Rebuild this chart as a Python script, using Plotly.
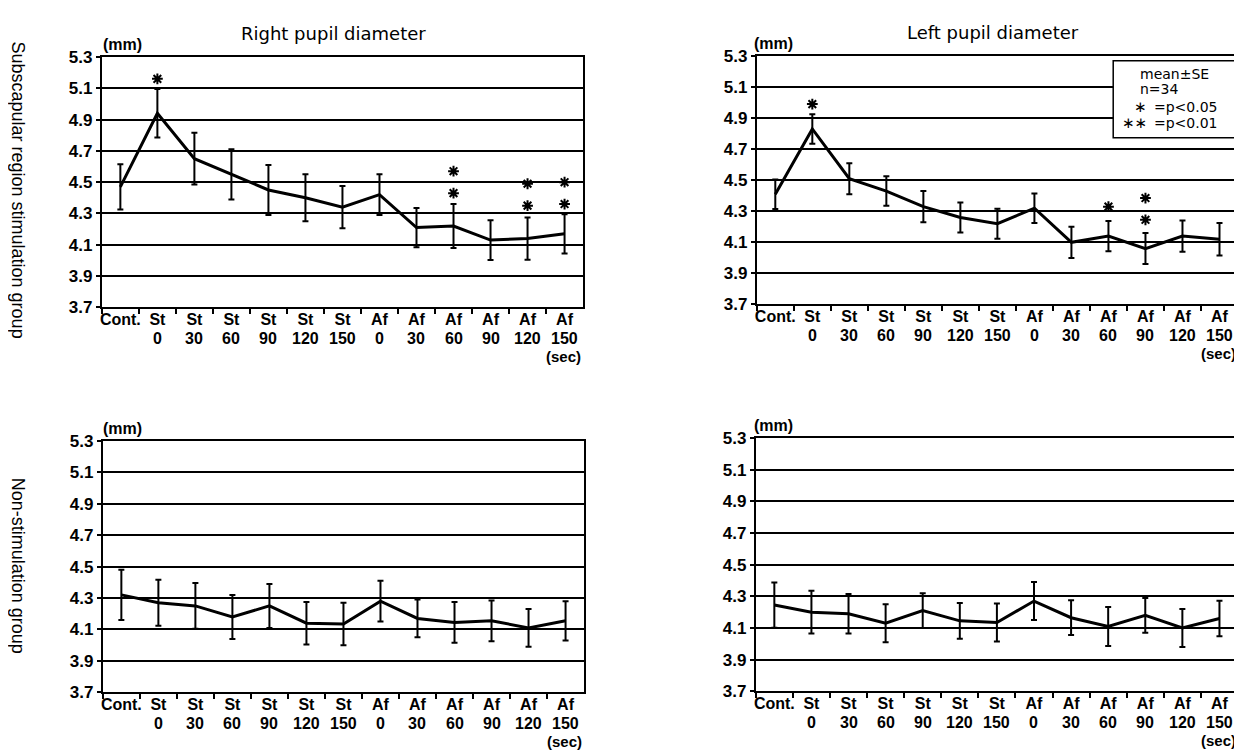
import plotly.graph_objects as go

# ---------------- data ----------------
cat_main = ["Cont.", "St", "St", "St", "St", "St", "St", "Af", "Af", "Af", "Af", "Af", "Af"]
cat_sub = ["", "0", "30", "60", "90", "120", "150", "0", "30", "60", "90", "120", "150"]
categories = [f"{m} {s}".strip() for m, s in zip(cat_main, cat_sub)]

y_ticks = [3.7, 3.9, 4.1, 4.3, 4.5, 4.7, 4.9, 5.1, 5.3]

# Subscapular region stimulation group
right_stim_mean = [4.47, 4.94, 4.65, 4.55, 4.45, 4.40, 4.34, 4.42, 4.21, 4.22, 4.13, 4.14, 4.17]
right_stim_se = [0.145, 0.155, 0.165, 0.16, 0.16, 0.15, 0.135, 0.13, 0.125, 0.14, 0.127, 0.135, 0.125]
left_stim_mean = [4.41, 4.83, 4.51, 4.43, 4.33, 4.26, 4.22, 4.32, 4.10, 4.14, 4.06, 4.14, 4.12]
left_stim_se = [0.095, 0.095, 0.10, 0.095, 0.10, 0.097, 0.097, 0.095, 0.10, 0.097, 0.10, 0.10, 0.105]

# Non-stimulation group
right_non_mean = [4.32, 4.27, 4.25, 4.18, 4.25, 4.14, 4.135, 4.28, 4.17, 4.145, 4.155, 4.11, 4.155]
right_non_se = [0.16, 0.147, 0.145, 0.14, 0.14, 0.135, 0.135, 0.13, 0.12, 0.13, 0.13, 0.12, 0.125]
left_non_mean = [4.245, 4.20, 4.19, 4.13, 4.21, 4.145, 4.135, 4.27, 4.165, 4.11, 4.18, 4.10, 4.16]
left_non_se = [0.143, 0.135, 0.125, 0.12, 0.11, 0.113, 0.12, 0.12, 0.11, 0.123, 0.11, 0.12, 0.112]

# significance asterisks (category, y position in mm)
right_sig_cat = ["St 0", "Af 60", "Af 60", "Af 120", "Af 120", "Af 150", "Af 150"]
right_sig_y = [5.16, 4.57, 4.43, 4.49, 4.35, 4.50, 4.36]
left_sig_cat = ["St 0", "Af 60", "Af 90", "Af 90"]
left_sig_y = [4.99, 4.33, 4.385, 4.245]

titles = ["Right pupil diameter", "Left pupil diameter"]
row_labels = ["Subscapular region stimulation group", "Non-stimulation group"]
legend_lines = ["mean±SE", "n=34"]
legend_sig = [("∗", "=p<0.05"), ("∗∗", "=p<0.01")]

# ---------------- layout helpers ----------------
OFF = 8                      # default page margin of the html body
W, H = 1242 - OFF, 752 - OFF
FONT = "DejaVu Sans, sans-serif"
FONT_B = "Liberation Sans, Arial, sans-serif"
FONT_V = "Liberation Sans, Arial, sans-serif"


def px_x(p):
    return (p - OFF) / W


def px_y(p):
    return 1 - (p - OFF) / H


# panel boxes in pixels of the reference: (left, right, top, bottom)
panels = [
    (100, 582, 49, 306),
    (756, 1238, 48, 303),
    (101, 583, 443, 701),
    (755, 1238, 440, 700),
]
mm_shift = [-1, -5, -2, -4]
series = [
    (right_stim_mean, right_stim_se),
    (left_stim_mean, left_stim_se),
    (right_non_mean, right_non_se),
    (left_non_mean, left_non_se),
]

fig = go.Figure()
layout = dict(
    width=W, height=H,
    margin=dict(l=0, r=0, t=0, b=0),
    paper_bgcolor="white", plot_bgcolor="white",
    showlegend=False,
    font=dict(family=FONT, color="black"),
)

tick_x_font = dict(family=FONT_B, size=16, color="black", weight="bold")
tick_y_font = dict(family=FONT_B, size=17, color="black", weight="bold")
sec_font = dict(family=FONT_B, size=15, color="black", weight="bold")

annotations = []
for i, ((l, r, t, b), (mean, se)) in enumerate(zip(panels, series)):
    n = i + 1
    xa = "xaxis" if n == 1 else f"xaxis{n}"
    ya = "yaxis" if n == 1 else f"yaxis{n}"
    xr = "x" if n == 1 else f"x{n}"
    yr = "y" if n == 1 else f"y{n}"
    layout[xa] = dict(
        domain=[px_x(l), px_x(r)], anchor=yr, type="category",
        categoryorder="array", categoryarray=categories,
        tickvals=categories, ticktext=cat_main,
        range=[-0.5, len(categories) - 0.5],
        tickson="boundaries", ticks="outside", ticklen=5, tickwidth=2, tickcolor="black",
        ticklabelstandoff=-4,
        showline=True, linecolor="black", linewidth=2, mirror=True,
        showgrid=False, zeroline=False, tickangle=0,
        tickfont=tick_x_font,
    )
    layout[ya] = dict(
        domain=[px_y(b), px_y(t)], anchor=xr,
        range=[3.7, 5.3], tickvals=y_ticks, ticktext=[f"{v:.1f}" for v in y_ticks],
        ticks="outside", ticklen=4, tickwidth=2, tickcolor="black",
        showline=True, linecolor="black", linewidth=2, mirror=True,
        showgrid=True, gridcolor="black", gridwidth=2, zeroline=False,
        tickfont=tick_y_font,
    )
    fig.add_trace(go.Scatter(
        x=categories, y=mean, mode="lines", xaxis=xr, yaxis=yr,
        line=dict(color="black", width=3),
        error_y=dict(type="data", array=se, visible=True, color="black", thickness=2, width=3),
        hoverinfo="skip",
    ))
    # second line of the category labels
    for c, s in zip(categories, cat_sub):
        if s:
            annotations.append(dict(text=s, xref=xr, yref=f"{yr} domain", x=c, y=0,
                                    xanchor="center", yanchor="middle", yshift=-31.5, showarrow=False,
                                    font=tick_x_font))
    # (mm) and (sec)
    annotations.append(dict(text="(mm)", xref=f"{xr} domain", yref=f"{yr} domain", x=0, y=1,
                            xanchor="left", yanchor="middle", yshift=12, xshift=mm_shift[i],
                            showarrow=False, font=dict(family=FONT_B, size=16, color="black", weight="bold")))
    annotations.append(dict(text="(sec)", xref=f"{xr} domain", yref=f"{yr} domain", x=1, y=0,
                            xanchor="right", yanchor="middle", yshift=-49, showarrow=False,
                            font=sec_font))

# asterisks
fig.add_trace(go.Scatter(x=right_sig_cat, y=right_sig_y, mode="markers", xaxis="x", yaxis="y",
                         marker=dict(symbol="asterisk-open", size=9, color="black",
                                     line=dict(color="black", width=2)), hoverinfo="skip"))
fig.add_trace(go.Scatter(x=left_sig_cat, y=left_sig_y, mode="markers", xaxis="x2", yaxis="y2",
                         marker=dict(symbol="asterisk-open", size=9, color="black",
                                     line=dict(color="black", width=2)), hoverinfo="skip"))

# titles
title_x = [0.482, 0.49]
for j, ttl in enumerate(titles):
    xr = "x" if j == 0 else "x2"
    yr = "y" if j == 0 else "y2"
    annotations.append(dict(text=ttl, xref=f"{xr} domain", yref=f"{yr} domain", x=title_x[j], y=1,
                            xanchor="center", yanchor="middle", yshift=23, showarrow=False,
                            font=dict(family=FONT, size=18, color="black")))

# row labels
annotations.append(dict(text=row_labels[0], xref="paper", yref="paper", x=px_x(16), y=px_y(186),
                        xanchor="center", yanchor="middle",
                        textangle=90, showarrow=False, font=dict(family=FONT_V, size=18, color="black")))
annotations.append(dict(text=row_labels[1], xref="paper", yref="paper", x=px_x(16), y=px_y(571),
                        xanchor="center", yanchor="middle",
                        textangle=90, showarrow=False, font=dict(family=FONT_V, size=18, color="black")))

# legend box
shapes = [dict(type="rect", xref="paper", yref="paper",
               x0=px_x(1113), x1=px_x(1236), y0=px_y(132), y1=px_y(53),
               line=dict(color="black", width=1.5), fillcolor="white", layer="above")]
for k, txt in enumerate(legend_lines):
    annotations.append(dict(text=txt, xref="paper", yref="paper", x=px_x(1138), y=px_y(67 + 15 * k),
                            xanchor="left", yanchor="middle", showarrow=False,
                            font=dict(family=FONT, size=14, color="black")))
for k, (star, txt) in enumerate(legend_sig):
    yy = px_y(100 + 16.5 * k)
    annotations.append(dict(text=star, xref="paper", yref="paper", x=px_x(1149), y=yy,
                            xanchor="right", yanchor="middle", showarrow=False,
                            font=dict(family=FONT, size=15, color="black")))
    annotations.append(dict(text=txt, xref="paper", yref="paper", x=px_x(1152), y=yy,
                            xanchor="left", yanchor="middle", showarrow=False,
                            font=dict(family=FONT, size=14, color="black")))

layout["annotations"] = annotations
layout["shapes"] = shapes
fig.update_layout(**layout)
fig.write_html("out.html")
